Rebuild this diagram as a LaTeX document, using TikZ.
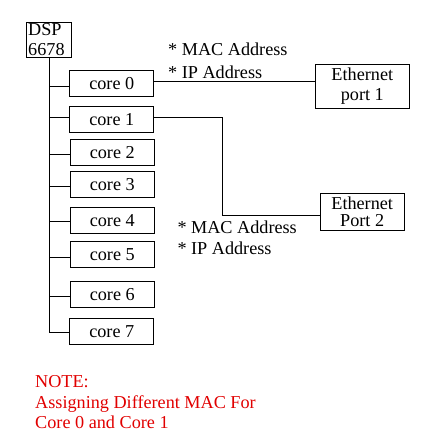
\documentclass[tikz,border=0pt]{standalone}
\usepackage{fontspec}
\setmainfont{Liberation Serif}
\begin{document}
\begin{tikzpicture}[x=1pt,y=-1pt,
  every node/.style={font=\fontsize{18.2}{20}\selectfont},
  box/.style={draw,line width=0.8pt,inner sep=0pt},
  corebox/.style={box,minimum width=84pt,minimum height=26pt},
  wire/.style={line width=0.8pt},
  lbl/.style={anchor=base west,inner sep=0pt},
  notecol/.style={text={rgb,255:red,225;green,0;blue,0}}]
\useasboundingbox (0,0) rectangle (427,443);
% DSP
\node[box,minimum width=45pt,minimum height=35pt,text width=42pt,align=left,inner sep=1.5pt] (dsp) at (49.2,39.8) {DSP\\6678};
% cores
\node[corebox] (c0) at (111.8,83.3) {core 0};
\node[corebox] (c1) at (111.8,119.3) {core 1};
\node[corebox] (c2) at (112.3,152.2) {core 2};
\node[corebox] (c3) at (112.3,184.5) {core 3};
\node[corebox] (c4) at (112.3,220.5) {core 4};
\node[corebox] (c5) at (112.3,254.5) {core 5};
\node[corebox] (c6) at (112.3,294.3) {core 6};
\node[corebox] (c7) at (111.8,331.3) {core 7};
% ethernet ports
\node[box,minimum width=93.3pt,minimum height=44pt,align=center] (e1) at (362.3,86.3) {Ethernet\\port 1};
\node[box,minimum width=84.3pt,minimum height=36.7pt,align=center,font=\fontsize{18.2}{17}\selectfont] (e2) at (362.2,211.7) {Ethernet\\Port 2};
% trunk
\coordinate (tb) at (dsp.south |- 0,332);
\draw[wire] (dsp.south) -- (tb) -- (c7.west |- tb);
\foreach \n/\yy in {c0/86,c1/117.3,c2/154.3,c3/186.7,c4/221.7,c5/257.3,c6/296.7}
  \draw[wire] (dsp.south |- 0,\yy) -- (\n.west |- 0,\yy);
% core 0 to ethernet port 1
\draw[wire] (c0.east |- 0,81.7) -- (e1.west |- 0,81.7);
% core 1 to ethernet port 2
\coordinate (bend) at (222.3,215.7);
\draw[wire] (c1.east |- 0,117.3) -| (bend) -- (e2.west |- bend);
% labels
\node[lbl] (mac1) at (168,56) {* MAC Address};
\node[lbl] (ip1) at (168,78.3) {* IP Address};
\node[lbl] (mac2) at (177.3,233.3) {* MAC Address};
\node[lbl] (ip2) at (177.3,254) {* IP Address};
% note
\node[anchor=north west,inner sep=0pt,align=left,notecol,font=\fontsize{18.2}{20.5}\selectfont] (note) at (35,375.3) {NOTE:\\Assigning Different MAC For\\Core 0 and Core 1};
\end{tikzpicture}
\end{document}
